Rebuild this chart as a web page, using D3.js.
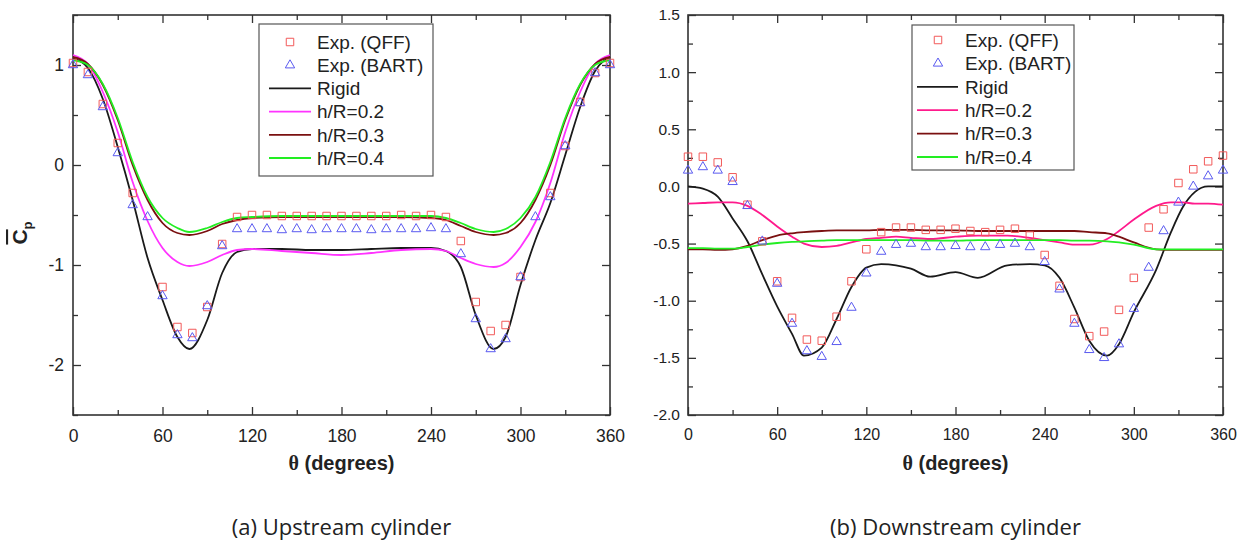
<!DOCTYPE html>
<html>
<head>
<meta charset="utf-8">
<script src="https://cdn.jsdelivr.net/npm/d3@7"></script>
<style>
  body { margin: 0; background: #fff; }
  svg { font-family: Arial, "Liberation Sans", sans-serif; }
</style>
</head>
<body>
<script>
// ---- data ----
var expTheta = d3.range(0, 361, 10);

// (a) upstream cylinder, experiments (null = no marker drawn)
var upQFF = [1.02, 0.93, 0.61, 0.22, -0.28, null, -1.22, -1.62, -1.68, -1.42, -0.79, -0.52, -0.50, -0.50, -0.51, -0.51,
  -0.51, -0.51, -0.51, -0.51, -0.51, -0.51, -0.50, -0.51, -0.50, -0.52, -0.76, -1.37, -1.66, -1.60, -1.12, null,
  -0.28, 0.19, 0.63, 0.92, 1.02];
var upBART = [1.0, 0.9, 0.58, 0.12, -0.40, -0.52, -1.31, -1.70, -1.73, -1.41, -0.81, -0.64, -0.64, -0.64, -0.65, -0.64,
  -0.65, -0.64, -0.64, -0.64, -0.65, -0.64, -0.64, -0.64, -0.63, -0.64, -0.89, -1.54, -1.84, -1.74, -1.12, -0.52,
  -0.32, 0.19, 0.62, 0.92, 1.0];

// (a) computed curves
var upTheta = [0, 10, 20, 30, 40, 50, 60, 70, 78, 90, 100, 110, 120, 140, 160, 180, 200, 220, 240, 250, 260, 270, 282, 290, 300, 310, 320, 330, 340, 350, 360];
var upRigid = [1.07, 0.97, 0.66, 0.18, -0.35, -0.93, -1.35, -1.72, -1.84, -1.55, -1.08, -0.87, -0.84, -0.84, -0.85, -0.85, -0.84, -0.83, -0.83, -0.86, -1.02, -1.5, -1.84, -1.72, -1.2, -0.75, -0.38, 0.1, 0.58, 0.94, 1.08];
var upH02 = [1.1, 1.01, 0.73, 0.33, -0.17, -0.56, -0.83, -0.97, -1.01, -0.97, -0.9, -0.85, -0.84, -0.86, -0.88, -0.9, -0.88, -0.85, -0.84, -0.86, -0.93, -0.99, -1.02, -0.98, -0.82, -0.57, -0.18, 0.33, 0.73, 1.01, 1.1];
var upH03 = [1.08, 1.01, 0.8, 0.45, 0.0, -0.35, -0.58, -0.68, -0.7, -0.66, -0.59, -0.55, -0.53, -0.52, -0.52, -0.52, -0.52, -0.52, -0.53, -0.55, -0.61, -0.67, -0.7, -0.68, -0.58, -0.35, 0.0, 0.45, 0.8, 1.01, 1.08];
var upH04 = [1.05, 1.0, 0.81, 0.47, 0.03, -0.32, -0.53, -0.63, -0.67, -0.63, -0.57, -0.53, -0.52, -0.51, -0.51, -0.51, -0.51, -0.51, -0.51, -0.53, -0.58, -0.64, -0.67, -0.64, -0.53, -0.32, 0.03, 0.47, 0.81, 1.0, 1.05];

// (b) downstream cylinder, experiments
var downQFF = [0.26, 0.26, 0.21, 0.08, -0.16, -0.48, -0.83, -1.15, -1.34, -1.35, -1.14, -0.83, -0.55, -0.40, -0.36, -0.36,
  -0.38, -0.38, -0.37, -0.39, -0.40, -0.38, -0.37, -0.43, -0.60, -0.87, -1.16, -1.31, -1.27, -1.08, -0.80, -0.36,
  -0.20, 0.03, 0.15, 0.22, 0.27];
var downBART = [0.14, 0.17, 0.14, 0.04, -0.17, -0.48, -0.85, -1.20, -1.44, -1.49, -1.36, -1.06, -0.76, -0.57, -0.51, -0.50,
  -0.53, -0.53, -0.52, -0.53, -0.53, -0.51, -0.50, -0.53, -0.66, -0.90, -1.20, -1.43, -1.50, -1.38, -1.07, -0.71,
  -0.39, -0.14, 0.0, 0.09, 0.14];

// (b) computed curves
var downTheta = [0, 10, 20, 30, 40, 50, 60, 70, 78, 90, 100, 110, 120, 130, 140, 150, 163, 180, 195, 215, 230, 240, 250, 260, 270, 282, 290, 300, 315, 325, 333, 341, 350, 360];
var downRigid = [0.0, -0.02, -0.09, -0.28, -0.48, -0.77, -1.05, -1.29, -1.48, -1.41, -1.16, -0.88, -0.71, -0.68, -0.69, -0.72, -0.79, -0.75, -0.80, -0.69, -0.68, -0.69, -0.80, -1.06, -1.35, -1.48, -1.38, -1.10, -0.73, -0.40, -0.18, -0.05, 0.0, 0.0];
var downH02 = [-0.15, -0.145, -0.14, -0.14, -0.17, -0.25, -0.35, -0.44, -0.5, -0.53, -0.52, -0.49, -0.46, -0.45, -0.44, -0.45, -0.46, -0.44, -0.43, -0.43, -0.45, -0.47, -0.49, -0.51, -0.51, -0.46, -0.39, -0.29, -0.17, -0.14, -0.14, -0.15, -0.15, -0.16];
var downH03 = [-0.55, -0.55, -0.555, -0.55, -0.52, -0.47, -0.43, -0.41, -0.40, -0.39, -0.385, -0.385, -0.385, -0.38, -0.38, -0.38, -0.385, -0.385, -0.39, -0.39, -0.39, -0.39, -0.39, -0.39, -0.40, -0.41, -0.44, -0.49, -0.55, -0.555, -0.555, -0.555, -0.555, -0.555];
var downH04 = [-0.54, -0.54, -0.545, -0.545, -0.53, -0.51, -0.495, -0.485, -0.48, -0.475, -0.47, -0.47, -0.47, -0.47, -0.47, -0.47, -0.475, -0.475, -0.47, -0.47, -0.47, -0.47, -0.47, -0.475, -0.475, -0.48, -0.49, -0.51, -0.55, -0.55, -0.55, -0.55, -0.55, -0.55];

var legendLabels = ["Exp. (QFF)", "Exp. (BART)", "Rigid", "h/R=0.2", "h/R=0.3", "h/R=0.4"];
var xTicks = [0, 60, 120, 180, 240, 300, 360];

var svg = d3.select("body").append("svg")
    .attr("width", 1247)
    .attr("height", 545);

var COL_SQ = "#f25a5a", COL_TRI = "#5a5af0";
var FONT = "Arial, Liberation Sans, sans-serif";

function drawPanel(p) {
  var x = d3.scaleLinear().domain([0, 360]).range([p.left, p.right]);
  var y = d3.scaleLinear().domain(p.yDomain).range([p.bottom, p.top]);
  var g = svg.append("g");

  var xMinor = d3.range(30, 360, 60);
  var yMinor = d3.range(p.yDomain[0], p.yDomain[1] + 1e-9, p.yMinorStep)
      .filter(function(v) { return p.yMajor.every(function(m) { return Math.abs(m - v) > 1e-6; }); });

  // inward ticks on all four sides; labels only bottom and left
  function addAxis(axis, tr, major, minor, labels) {
    var a = g.append("g").attr("transform", tr)
        .call(axis(major === "x" ? x : y).tickValues(major === "x" ? xTicks : p.yMajor)
          .tickSizeInner(-8).tickSizeOuter(0).tickPadding(p.pad)
          .tickFormat(labels ? (major === "x" ? d3.format("d") : p.fmt) : ""));
    a.attr("font-family", FONT);
    a.select(".domain").remove();
    a.selectAll("text").attr("font-size", major === "x" ? p.xFont : p.yFont).attr("fill", "#222");
    a.selectAll("line").attr("stroke", "#333").attr("stroke-width", 1.3);
    var b = g.append("g").attr("transform", tr)
        .call(axis(major === "x" ? x : y).tickValues(minor).tickSizeInner(-5).tickSizeOuter(0).tickFormat(""));
    b.select(".domain").remove();
    b.selectAll("line").attr("stroke", "#333").attr("stroke-width", 1.3);
    return a;
  }
  var bx = addAxis(d3.axisBottom, "translate(0," + p.bottom + ")", "x", xMinor, true);
  bx.selectAll("text").attr("dy", "1.05em");
  addAxis(d3.axisTop, "translate(0," + p.top + ")", "x", xMinor, false);
  addAxis(d3.axisLeft, "translate(" + p.left + ",0)", "y", yMinor, true);
  addAxis(d3.axisRight, "translate(" + p.right + ",0)", "y", yMinor, false);

  g.append("rect")
      .attr("x", p.left).attr("y", p.top)
      .attr("width", p.right - p.left).attr("height", p.bottom - p.top)
      .attr("fill", "none").attr("stroke", "#333").attr("stroke-width", 1.6);

  var line = d3.line()
      .x(function(d) { return x(d[0]); })
      .y(function(d) { return y(d[1]); })
      .curve(d3.curveMonotoneX);

  p.curves.forEach(function(c) {
    g.append("path")
        .datum(d3.zip(p.curveTheta, c.values))
        .attr("d", line)
        .attr("fill", "none")
        .attr("stroke", c.color)
        .attr("stroke-width", 1.8);
  });

  var sq = d3.symbol(d3.symbolSquare, 56);
  var tri = d3.symbol(d3.symbolTriangle, 38);
  var exps = [{ values: p.qff, sym: sq, color: COL_SQ }, { values: p.bart, sym: tri, color: COL_TRI }];
  exps.forEach(function(e) {
    g.append("g").selectAll("path")
        .data(d3.zip(expTheta, e.values).filter(function(d) { return d[1] !== null; }))
      .enter().append("path")
        .attr("transform", function(d) { return "translate(" + x(d[0]) + "," + y(d[1]) + ")"; })
        .attr("d", e.sym)
        .attr("fill", "none")
        .attr("stroke", e.color)
        .attr("stroke-width", 1);
  });

  // legend
  var L = p.legend;
  var lg = g.append("g").attr("font-family", FONT);
  lg.append("rect")
      .attr("x", L.x).attr("y", L.y).attr("width", L.w).attr("height", L.h)
      .attr("fill", "#fff").attr("stroke", "#555").attr("stroke-width", 1.2);
  legendLabels.forEach(function(lab, i) {
    var ry = L.y + L.first + i * L.step;
    if (i === 0) {
      lg.append("path").attr("transform", "translate(" + L.mx + "," + ry + ")").attr("d", sq)
        .attr("fill", "none").attr("stroke", COL_SQ).attr("stroke-width", 1);
    } else if (i === 1) {
      lg.append("path").attr("transform", "translate(" + L.mx + "," + ry + ")").attr("d", tri)
        .attr("fill", "none").attr("stroke", COL_TRI).attr("stroke-width", 1);
    } else {
      lg.append("line").attr("x1", L.lx0).attr("x2", L.lx1).attr("y1", ry).attr("y2", ry)
        .attr("stroke", p.curves[i - 2].color).attr("stroke-width", 1.8);
    }
    lg.append("text").attr("x", L.tx).attr("y", ry).attr("dy", "0.36em")
      .attr("font-size", L.font).attr("fill", "#222").text(lab);
  });

  // axis title
  var xt = g.append("text")
      .attr("x", (p.left + p.right) / 2).attr("y", p.bottom + 55)
      .attr("text-anchor", "middle").attr("font-family", FONT)
      .attr("font-size", 20).attr("font-weight", "bold").attr("fill", "#222");
  xt.append("tspan").attr("font-family", "Liberation Serif, serif").text("\u03b8");
  xt.append("tspan").text(" (degrees)");

  svg.append("text")
      .attr("x", (p.left + p.right) / 2).attr("y", 535)
      .attr("text-anchor", "middle")
      .attr("font-family", "Open Sans, sans-serif").attr("font-size", 22).attr("fill", "#222")
      .text(p.caption);
}

drawPanel({
  left: 73, right: 610, top: 15, bottom: 415,
  yDomain: [-2.5, 1.5], yMajor: [-2, -1, 0, 1], yMinorStep: 0.5,
  fmt: function(d) { return String(d); }, xFont: 17.5, yFont: 17.5, pad: 9,
  qff: upQFF, bart: upBART, curveTheta: upTheta,
  curves: [
    { values: upRigid, color: "#1a1a1a" },
    { values: upH02, color: "#ff33ff" },
    { values: upH03, color: "#7a1010" },
    { values: upH04, color: "#22ee22" }
  ],
  legend: { x: 259, y: 24, w: 174, h: 152, first: 18, step: 23.2, mx: 290, lx0: 269, lx1: 311, tx: 317, font: 19 },
  caption: "(a) Upstream cylinder"
});

drawPanel({
  left: 688, right: 1223, top: 15, bottom: 415,
  yDomain: [-2.0, 1.5], yMajor: [-2, -1.5, -1, -0.5, 0, 0.5, 1, 1.5], yMinorStep: 0.25,
  fmt: function(d) { return d.toFixed(1); }, xFont: 16, yFont: 15.5, pad: 8,
  qff: downQFF, bart: downBART, curveTheta: downTheta,
  curves: [
    { values: downRigid, color: "#1a1a1a" },
    { values: downH02, color: "#ff1a8c" },
    { values: downH03, color: "#7a1010" },
    { values: downH04, color: "#22ee22" }
  ],
  legend: { x: 912, y: 25, w: 162, h: 145, first: 15, step: 23.4, mx: 938, lx0: 917, lx1: 958, tx: 965, font: 19 },
  caption: "(b) Downstream cylinder"
});

// y axis title of panel (a): C-bar with subscript p
var yl = svg.append("text")
    .attr("transform", "translate(27,233) rotate(-90)")
    .attr("text-anchor", "middle").attr("font-family", FONT)
    .attr("font-size", 21).attr("font-weight", "bold").attr("fill", "#222");
yl.append("tspan").attr("text-decoration", "overline").text("C");
yl.append("tspan").attr("font-size", 13).attr("dy", 5).text("p");
</script>
</body>
</html>
